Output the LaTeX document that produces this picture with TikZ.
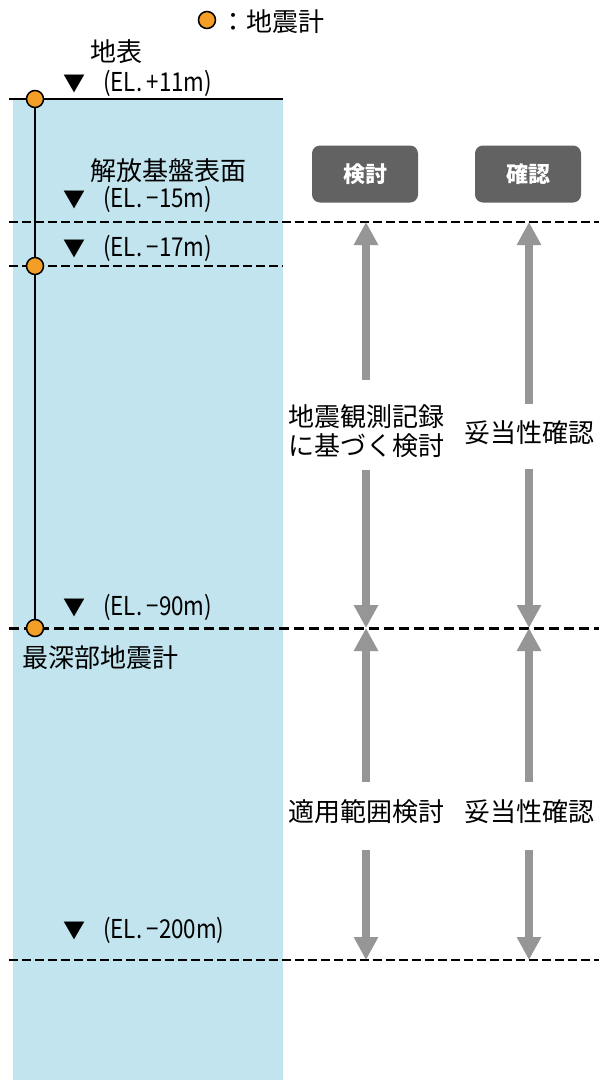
\documentclass[tikz,border=0pt]{standalone}
\usepackage{fontspec}
\setmainfont{Noto Sans CJK JP}
\newfontfamily\elfont{Noto Sans CJK JP}[FakeStretch=0.86]
\usetikzlibrary{arrows.meta}

\definecolor{soil}{RGB}{193,228,238}
\definecolor{sensor}{RGB}{243,158,38}
\definecolor{arrgray}{RGB}{150,150,150}
\definecolor{boxgray}{RGB}{98,98,98}

\tikzset{
  lvl/.style={anchor=west, inner sep=0pt, font=\fontsize{26}{30}\selectfont},
  seis/.style={circle, draw=black, line width=1.5pt, fill=sensor, minimum size=17pt, inner sep=0pt},
  hdr/.style={rounded corners=8pt, fill=boxgray, text=white, minimum width=106pt, minimum height=57pt, font=\bfseries\fontsize{22}{24}\selectfont},
  note/.style={align=center, inner sep=0pt, font=\fontsize{26}{29}\selectfont},
  garrow/.style={draw=arrgray, line width=8pt, -{Triangle[width=23pt,length=23pt]}},
  lvline/.style={line width=2.2pt, dash pattern=on 9pt off 4pt},
}

\begin{document}
\begin{tikzpicture}[x=1pt,y=-1pt]
\fill[white] (0,0) rectangle (599,1080);
\fill[soil] (13,99) rectangle (283,1080);

% ground surface and level lines
\draw[line width=2.5pt] (9,99) -- (283,99);
\draw[lvline] (9,222) -- (599,222);
\draw[lvline] (9,266) -- (283,266);
\draw[lvline, line width=3pt, dash pattern=on 10pt off 5pt] (9,628) -- (599,628);
\draw[lvline] (9,960) -- (599,960);

% legend
\node[seis] (key) at (207,20) {};
\node[lvl] (keytext) at (220,22) {：地震計};

\node[lvl] (surf) at (90,52) {地表};
\node[lvl] (base) at (90,171) {解放基盤表面};
\node[lvl] (deep) at (22,658) {最深部地震計};
\foreach \y/\t [count=\i] in {83/+11,199/−15,248/−17,607/−90,930/−200}
  \node[lvl] (el\i) at (63,\y) {{\fontsize{22}{26}\selectfont▼}\hspace{18pt}{\elfont(EL.\,\t m)}};

% seismometers
\node[seis] (s1) at (35,99) {};
\node[seis] (s2) at (35,266) {};
\node[seis] (s3) at (35,628) {};
\draw[line width=2pt] (s1) -- (s2) (s2) -- (s3);

\node[hdr] (study) at (365,174) {検討};
\node[hdr] (check) at (528,174) {確認};

\node[note] (obs) at (366,431) {地震観測記録\\に基づく検討};
\node[note] (val1) at (529,433) {妥当性確認};
\node[note] (range) at (366,812) {適用範囲検討};
\node[note] (val2) at (529,812) {妥当性確認};

\coordinate (u1) at (366,222);
\coordinate (u2) at (529,222);
\coordinate (m1) at (366,628);
\coordinate (m2) at (529,628);
\coordinate (b1) at (366,960);
\coordinate (b2) at (529,960);

% arrows
\draw[garrow, shorten <=24pt] (obs) -- (u1);
\draw[garrow, shorten <=12pt] (obs) -- (m1);
\draw[garrow, shorten <=17pt] (val1) -- (u2);
\draw[garrow, shorten <=24pt] (val1) -- (m2);
\draw[garrow, shorten <=18pt] (range) -- (m1);
\draw[garrow, shorten <=26pt] (range) -- (b1);
\draw[garrow, shorten <=18pt] (val2) -- (m2);
\draw[garrow, shorten <=26pt] (val2) -- (b2);
\end{tikzpicture}
\end{document}
